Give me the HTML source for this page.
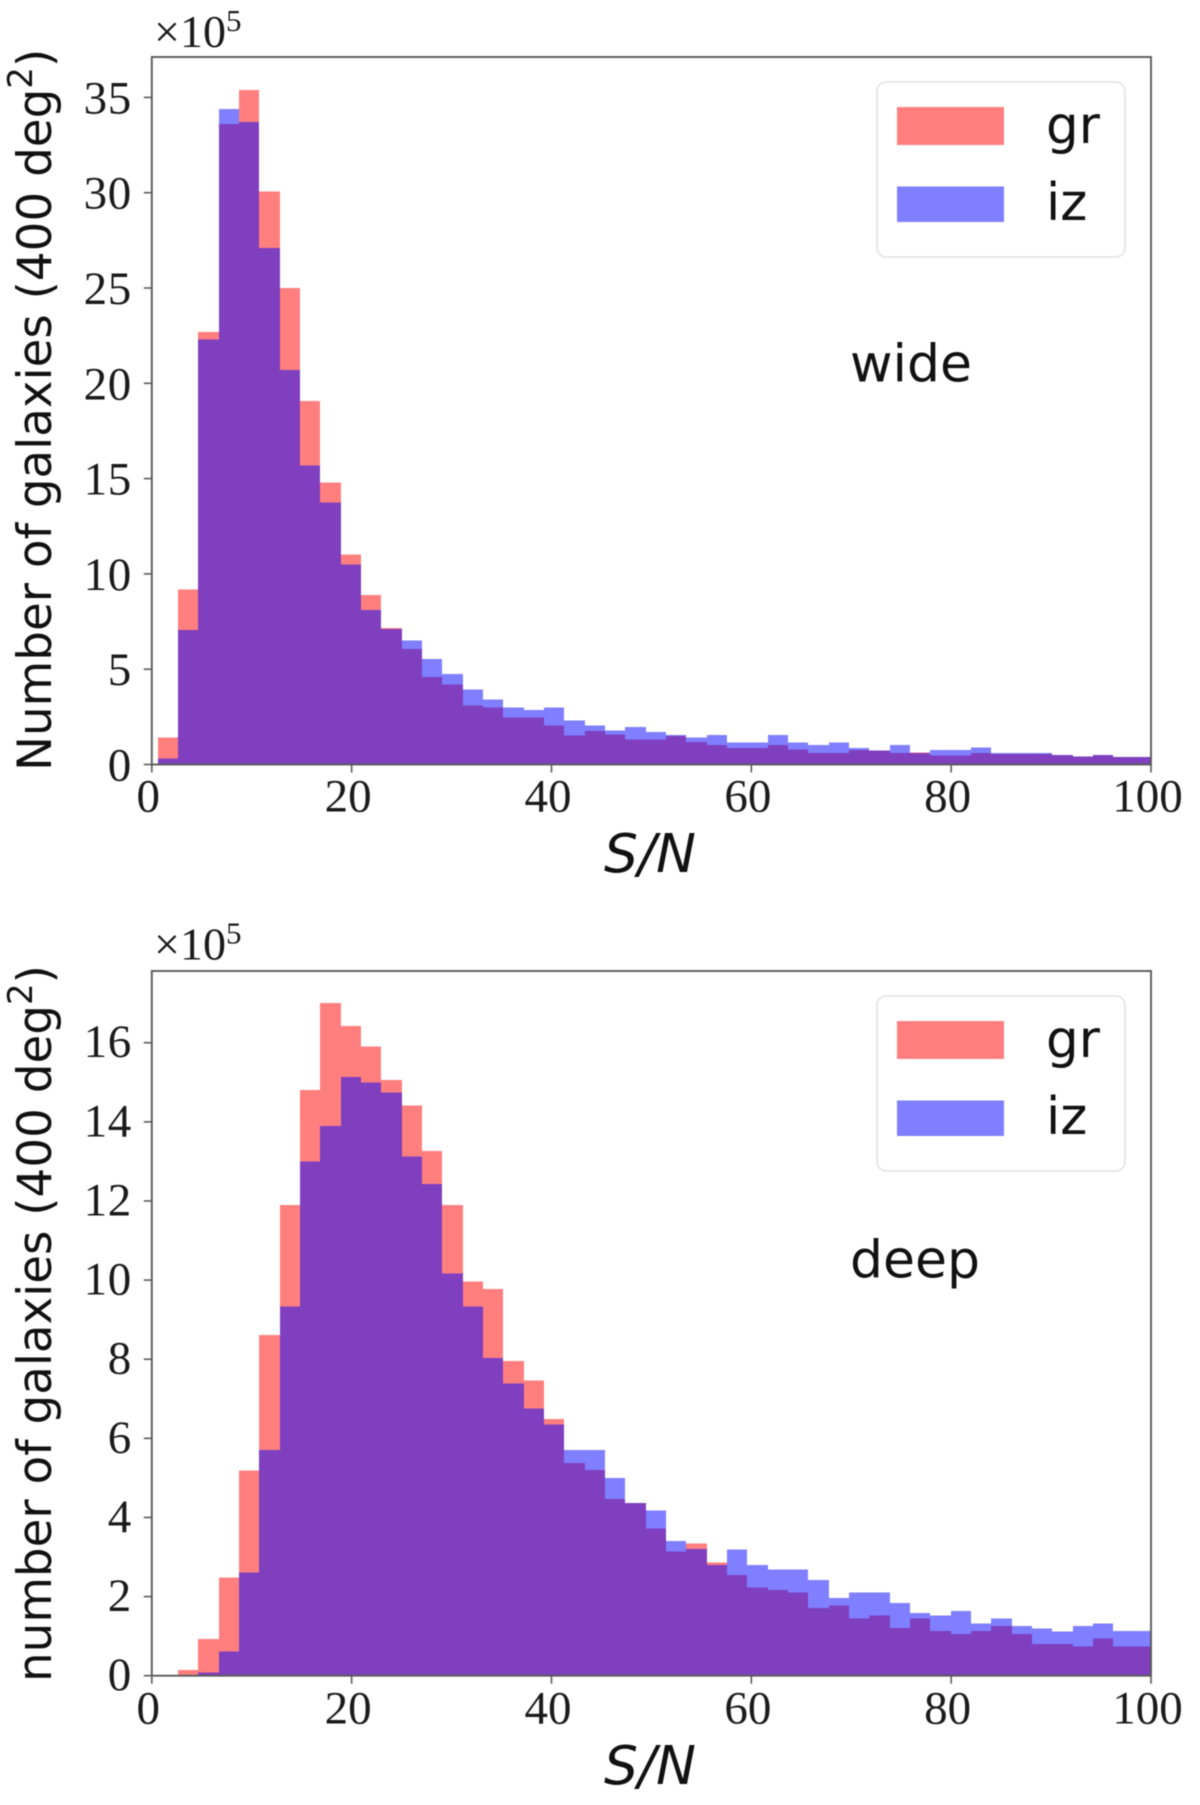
<!DOCTYPE html>
<html lang="en">
<head>
<meta charset="utf-8">
<title>S/N histograms: wide and deep</title>
<style>
html,body{margin:0;padding:0;background:#fff;}
svg{display:block;filter:blur(0.5px);}
.serif{font-family:"Liberation Serif",serif;fill:#1a1a1a;}
.sans{font-family:"DejaVu Sans",sans-serif;fill:#111;}
</style>
</head>
<body>
<svg id="figure" xmlns="http://www.w3.org/2000/svg" width="1200" height="1805" viewBox="0 0 1200 1805"></svg>
<script>
// Histogram bins (S/N units)
const binStart = 0.6;
const binWidth = 2.035;
const xTicks = [0, 20, 40, 60, 80, 100];
const wideYTicks = [0, 5, 10, 15, 20, 25, 30, 35];
const deepYTicks = [0, 2, 4, 6, 8, 10, 12, 14, 16];

// Counts in units of 1e5
const wideGr = [1.42,9.18,22.7,33.6,35.4,30.06,25,19.07,14.8,11.03,8.9,7.15,6.06,4.6,4.2,3.1,3.0,2.47,2.47,2.05,1.52,1.76,1.57,1.31,1.31,1.5,1.17,1.01,0.87,0.87,1.01,0.79,0.61,0.61,0.75,0.73,0.61,0.63,0.47,0.47,0.61,0.55,0.55,0.55,0.49,0.42,0.49,0.40,0.40];
const wideIz = [0.31,7.05,22.3,34.4,33.7,27.1,20.7,15.7,13.75,10.5,8.1,7.1,6.5,5.54,4.74,3.93,3.41,3.0,2.85,3.0,2.32,2.05,1.78,1.96,1.7,1.56,1.42,1.56,1.15,1.15,1.56,1.15,1.01,1.15,0.87,0.73,1.03,0.61,0.75,0.75,0.89,0.61,0.61,0.61,0.49,0.42,0.49,0.40,0.40];
const deepGr = [0,0.14,0.93,2.48,5.19,8.61,11.9,14.8,17.0,16.42,15.9,15.06,14.41,13.26,11.9,9.97,9.77,7.96,7.46,6.49,5.38,5.2,4.47,4.36,3.72,3.14,3.34,2.86,2.55,2.23,2.17,2.1,1.71,1.78,1.45,1.52,1.2,1.45,1.13,1.06,1.13,1.26,1.06,0.8,0.8,0.74,0.94,0.74,0.74];
const deepIz = [0,0,0.08,0.61,2.61,5.71,9.33,13.0,13.9,15.14,15.0,14.74,13.13,12.43,10.17,9.33,8.03,7.39,6.75,6.35,5.7,5.7,5.0,4.36,4.17,3.4,3.2,2.8,3.19,2.8,2.68,2.68,2.42,1.96,2.1,2.1,1.84,1.58,1.52,1.64,1.32,1.45,1.26,1.19,1.12,1.26,1.32,1.13,1.13];

const SVG_NS = 'http://www.w3.org/2000/svg';
const figure = document.getElementById('figure');

function make(parent, tag, attrs, text) {
  const el = document.createElementNS(SVG_NS, tag);
  for (const k in attrs) el.setAttribute(k, attrs[k]);
  if (text !== undefined) el.textContent = text;
  parent.appendChild(el);
  return el;
}

function drawPanel(cfg) {
  const left = 151.8, right = 1151;
  const xScale = v => left + (v - 0) / 100 * (right - left);
  const yScale = v => cfg.y0 - v * cfg.pxPerUnit;

  const panel = make(figure, 'g', {});
  
  

  // Bars: gr first, iz on top so overlap blends to purple
  const series = [
    { key: 'gr', values: cfg.gr, fill: 'rgba(255,0,0,0.5)' },
    { key: 'iz', values: cfg.iz, fill: 'rgba(0,0,255,0.5)' }
  ];
  series.forEach(s => {
    const group = make(panel, 'g', { 'shape-rendering': 'crispEdges' });
    
    
    s.values.forEach((v, i) => {
      if (v <= 0) return;
      const lo = binStart + i * binWidth;
      const hi = Math.min(lo + binWidth, 100);
      const x0 = Math.round(xScale(lo));
      const x1 = Math.round(xScale(hi));
      const y = yScale(v);
      const bar = make(group, 'rect', { x: x0, y: y, width: x1 - x0, height: cfg.y0 - y, fill: s.fill });
      
      
    });
  });

  // Frame
  const frame = make(panel, 'rect', { x: left, y: cfg.top, width: right - left, height: cfg.y0 - cfg.top, fill: 'none', stroke: '#5a5a5a', 'stroke-width': 1.9 });
  
  

  // X axis
  xTicks.forEach(t => {
    const x = xScale(t);
    const tick = make(panel, 'line', { x1: x, x2: x, y1: cfg.y0, y2: cfg.y0 + 8, stroke: '#5a5a5a', 'stroke-width': 1.6 });
    
    
    const label = make(panel, 'text', { x: x - 3.5, y: cfg.xLabelY, 'text-anchor': 'middle', 'font-size': 47, class: 'serif' }, String(t));
    
    
  });

  const xTitle = make(panel, 'text', { x: 650, y: cfg.xTitleY, 'text-anchor': 'middle', 'font-size': 53.5, 'font-style': 'italic', class: 'sans' }, 'S/N');
  
  

  // Y axis
  cfg.yTicks.forEach(t => {
    const y = yScale(t);
    const tick = make(panel, 'line', { x1: left - 8, x2: left, y1: y, y2: y, stroke: '#5a5a5a', 'stroke-width': 1.6 });
    
    
    const label = make(panel, 'text', { x: 132, y: y + cfg.yLabelDy, 'text-anchor': 'end', 'font-size': 47, 'letter-spacing': 0.7, class: 'serif' }, String(t));
    
    
  });

  const yTitle = make(panel, 'text', { transform: 'translate(51,' + cfg.yTitleStart + ') rotate(-90)', 'font-size': 46.8, class: 'sans' });
  
  
  make(yTitle, 'tspan', {}, cfg.yTitle + ' (400 deg');
  make(yTitle, 'tspan', { dy: -19, 'font-size': 34 }, '2');
  make(yTitle, 'tspan', { dy: 19 }, ')');

  // Offset text
  const offset = make(panel, 'text', { x: 154, y: cfg.offsetY, 'font-size': 46, class: 'serif' });
  
  
  make(offset, 'tspan', {}, '\u00d710');
  make(offset, 'tspan', { dy: -16, 'font-size': 31 }, '5');

  // Legend
  const legend = make(panel, 'g', {});
  
  
  const box = make(legend, 'rect', { x: 877, y: cfg.legendTop, width: 248, height: 175, rx: 9, fill: 'rgba(255,255,255,0.8)', stroke: '#e2e2e2', 'stroke-width': 1.6 });
  
  
  const entries = [
    { key: 'gr', fill: 'rgba(255,0,0,0.5)', top: cfg.legendTop + 25, h: 38, base: cfg.legendTop + 61 },
    { key: 'iz', fill: 'rgba(0,0,255,0.5)', top: cfg.legendTop + 104.5, h: 35.5, base: cfg.legendTop + 138 }
  ];
  entries.forEach(e => {
    const swatch = make(legend, 'rect', { x: 897, y: e.top, width: 107, height: e.h, fill: e.fill });
    
    
    const text = make(legend, 'text', { x: 1046, y: e.base, 'font-size': 51.5, class: 'sans' }, e.key);
    
    
  });

  // Annotation
  const note = make(panel, 'text', { x: 850, y: cfg.noteY, 'font-size': 52, class: 'sans' }, cfg.id);
  
  
}

drawPanel({
  id: 'wide', gr: wideGr, iz: wideIz, yTicks: wideYTicks,
  top: 57, y0: 764.5, pxPerUnit: 19.06,
  xLabelY: 811.5, xTitleY: 872, yLabelDy: 16, yTitle: 'Number of galaxies', yTitleStart: 771,
  offsetY: 47, legendTop: 82, noteY: 381.5
});
drawPanel({
  id: 'deep', gr: deepGr, iz: deepIz, yTicks: deepYTicks,
  top: 971, y0: 1675.7, pxPerUnit: 39.56,
  xLabelY: 1723.3, xTitleY: 1784, yLabelDy: 14.5, yTitle: 'number of galaxies', yTitleStart: 1682,
  offsetY: 959.5, legendTop: 996, noteY: 1277.5
});
</script>
</body>
</html>
